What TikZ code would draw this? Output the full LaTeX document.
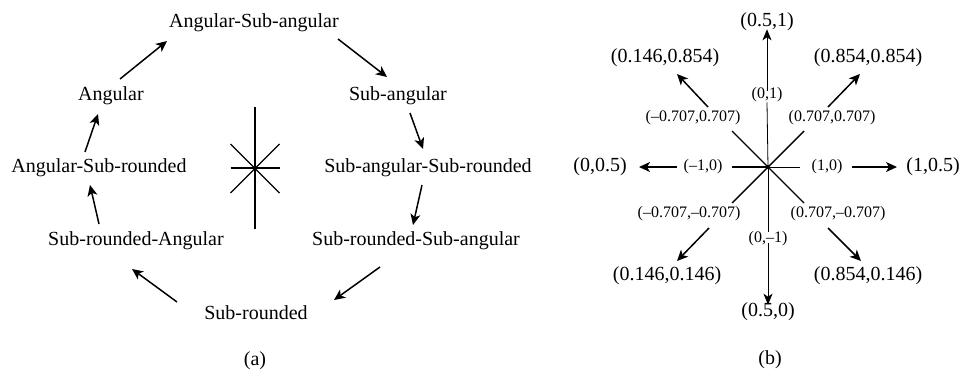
\documentclass[tikz,border=0pt]{standalone}
\usepackage{fontspec}
\setmainfont{Liberation Serif}
\usetikzlibrary{arrows.meta}
\begin{document}
\begin{tikzpicture}[x=1pt,y=-1pt,
  big/.style={font=\fontsize{20}{22}\selectfont, inner sep=0pt},
  small/.style={font=\fontsize{16}{18}\selectfont, inner sep=0pt},
  arr/.style={line width=1.5pt, -{Stealth[length=11pt,width=10pt,inset=3pt]}},
  varr/.style={line width=0.8pt, -{Stealth[length=11pt,width=9pt,inset=3pt]}},
  ray/.style={line width=1.4pt},
  thinray/.style={line width=0.8pt}]
\useasboundingbox[fill=white] (0,0) rectangle (961,372);
% ---------- panel (a) ----------
\node[big] (asa) at (254,23) {Angular-Sub-angular};
\node[big] (ang) at (111,96) {Angular};
\node[big] (sa) at (398,96) {Sub-angular};
\node[big] (asr) at (99,168) {Angular-Sub-rounded};
\node[big] (sasr) at (428,168) {Sub-angular-Sub-rounded};
\node[big] (sra) at (136,241) {Sub-rounded-Angular};
\node[big] (srsa) at (416,241) {Sub-rounded-Sub-angular};
\node[big] (sr) at (256,313) {Sub-rounded};
\node[big] (la) at (255,361) {(a)};
\coordinate (a1s) at (120,79);  \coordinate (a1e) at (167,41);
\coordinate (a2s) at (338,39);  \coordinate (a2e) at (387,77);
\coordinate (a3s) at (410,113); \coordinate (a3e) at (423,149);
\coordinate (a4s) at (422,185); \coordinate (a4e) at (413,225);
\coordinate (a5s) at (380,267); \coordinate (a5e) at (334,300);
\coordinate (a6s) at (177,302); \coordinate (a6e) at (132,269);
\coordinate (a7s) at (99,224);  \coordinate (a7e) at (90,185);
\coordinate (a8s) at (85,152);  \coordinate (a8e) at (98,114);
\draw[arr] (a1s) -- (a1e);
\draw[arr] (a2s) -- (a2e);
\draw[arr] (a3s) -- (a3e);
\draw[arr] (a4s) -- (a4e);
\draw[arr] (a5s) -- (a5e);
\draw[arr] (a6s) -- (a6e);
\draw[arr] (a7s) -- (a7e);
\draw[arr] (a8s) -- (a8e);
% star (a)
\coordinate (ca) at (255,168);
\draw[ray] (255,107) -- (255,229);
\draw[ray] (230.5,168) -- (279.5,168);
\draw[ray] (230.5,144) -- (279.5,193);
\draw[ray] (230.5,193) -- (279.5,144);
\fill (ca) circle (2pt);
% ---------- panel (b) ----------
\node[big] (n) at (767,22) {(0.5,1)};
\node[big] (nw) at (665,58) {(0.146,0.854)};
\node[big] (ne) at (868,58) {(0.854,0.854)};
\node[big] (w) at (600,167) {(0,0.5)};
\node[big] (e) at (933,167) {(1,0.5)};
\node[big] (sw) at (667,276) {(0.146,0.146)};
\node[big] (se) at (868,276) {(0.854,0.146)};
\node[big] (s) at (768,312) {(0.5,0)};
\node[big] (lb) at (770,360) {(b)};
\node[small] (vn) at (767,95) {(0,1)};
\node[small] (vnw) at (693,118) {(–0.707,0.707)};
\node[small] (vne) at (832,118) {(0.707,0.707)};
\node[small] (vw) at (703,167) {(–1,0)};
\node[small] (ve) at (827,167) {(1,0)};
\node[small] (vsw) at (689,214) {(–0.707,–0.707)};
\node[small] (vse) at (838,214) {(0.707,–0.707)};
\node[small] (vs) at (768,239) {(0,–1)};
\coordinate (cb) at (768,167);
% star (b)
\draw[ray] (732,131) -- (804,203);
\draw[ray] (732,203) -- (804,131);
\draw[ray] (732,167) -- (cb);
\draw[thinray] (cb) -- (800,167);
\draw[thinray] (cb) -- (vn.south);
\draw[thinray] (cb) -- (vs.north);
\fill (cb) circle (2pt);
% arrows (b)
\draw[varr] ([yshift=-3pt]vn.north) -- ([yshift=2pt]n.south);
\draw[arr] (708,107) -- (677,74);
\draw[arr] (828,107) -- (860,74);
\draw[arr] (677,167) -- (639,167);
\draw[arr] (852,167) -- (897,167);
\draw[arr] (709,228) -- (677,261);
\draw[arr] (828,228) -- (861,261);
\draw[varr] ([yshift=3pt]vs.south) -- ([yshift=-2pt]s.north);
\end{tikzpicture}
\end{document}
